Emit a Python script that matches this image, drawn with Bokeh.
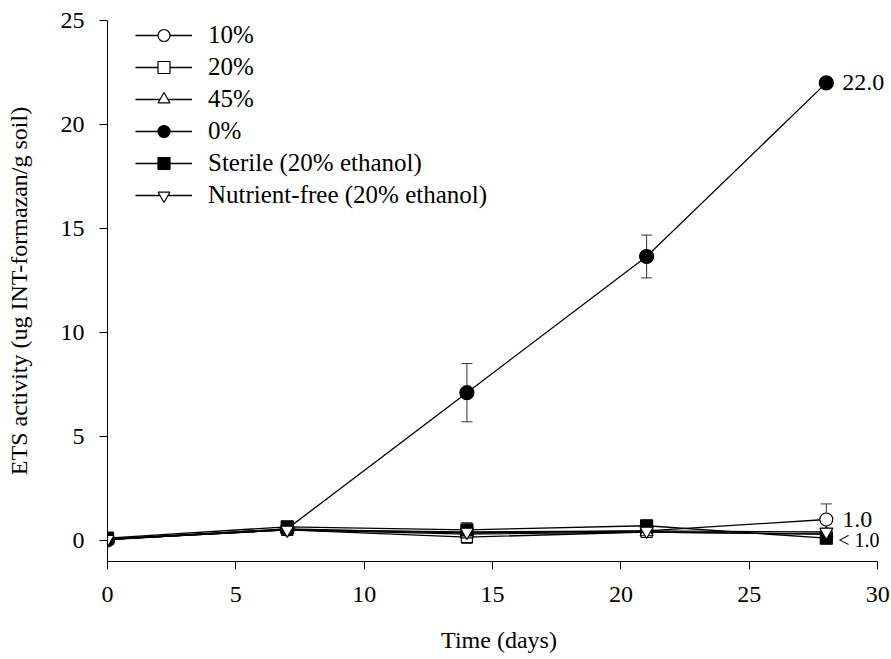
from bokeh.plotting import figure
from bokeh.models import (ColumnDataSource, Range1d, Legend, LegendItem, Whisker,
                          TeeHead, LabelSet, FixedTicker)
from bokeh.embed import file_html
from bokeh.resources import INLINE

days = [0, 7, 14, 21, 28]
pct10 = [0.05, 0.55, 0.35, 0.45, 1.0]
err10 = [0.05, 0.1, 0.5, 0.15, 0.75]
pct20 = [0.05, 0.5, 0.15, 0.4, 0.3]
pct45 = [0.05, 0.5, 0.3, 0.4, 0.3]
pct0 = [0.02, 0.55, 7.1, 13.65, 22.0]
err0 = [0.05, 0.1, 1.4, 1.03, 0.0]
sterile = [0.1, 0.65, 0.5, 0.7, 0.1]
nutrient = [0.05, 0.5, 0.4, 0.45, 0.4]

labels = ["10%", "20%", "45%", "0%", "Sterile (20% ethanol)", "Nutrient-free (20% ethanol)"]
x_ticks = [0, 5, 10, 15, 20, 25, 30]
y_ticks = [0, 5, 10, 15, 20, 25]

ann_y = [22.0, 1.0]
ann_text = ["22.0", "1.0"]
ann2_y = [0.0]
ann2_text = ["< 1.0"]

FONT = "Liberation Serif"

p = figure(width=890, height=658, output_backend="svg", toolbar_location=None,
           x_range=Range1d(0, 30.5), y_range=Range1d(-1.02, 25),
           min_border_left=107, min_border_right=0, min_border_top=20, min_border_bottom=97)
p.outline_line_color = None
p.xgrid.visible = False
p.ygrid.visible = False

for ax in (p.xaxis, p.yaxis):
    ax.major_label_text_font = FONT
    ax.major_label_text_font_size = "24px"
    ax.axis_label_text_font = FONT
    ax.axis_label_text_font_size = "24px"
    ax.axis_label_text_font_style = "normal"
    ax.minor_tick_line_color = None
    ax.major_tick_in = 0
    ax.major_tick_out = 8
    ax.axis_line_color = "black"
    ax.major_tick_line_color = "black"
    ax.major_label_text_color = "black"
    ax.axis_label_text_color = "black"

p.xaxis.bounds = (0, 30)
p.xaxis.ticker = FixedTicker(ticks=x_ticks)
p.yaxis.ticker = FixedTicker(ticks=y_ticks)
p.xaxis.axis_label = "Time (days)"
p.yaxis.axis_label = "ETS activity (ug INT-formazan/g soil)"
p.xaxis.major_label_standoff = 17
p.yaxis.major_label_standoff = 15
p.xaxis.axis_label_standoff = 22
p.yaxis.axis_label_standoff = 26

# error bars
src0 = ColumnDataSource(dict(x=days, lo=[a - b for a, b in zip(pct0, err0)], hi=[a + b for a, b in zip(pct0, err0)]))
src10 = ColumnDataSource(dict(x=days, lo=[a - b for a, b in zip(pct10, err10)], hi=[a + b for a, b in zip(pct10, err10)]))
for s in (src0, src10):
    w = Whisker(source=s, base="x", upper="hi", lower="lo", line_color="#333333", line_width=1,
                upper_head=TeeHead(size=11, line_color="#333333", line_width=1),
                lower_head=TeeHead(size=11, line_color="#333333", line_width=1))
    p.add_layout(w)

series = [
    (pct10, "circle", "white", 13),
    (pct20, "square", "white", 11),
    (pct45, "triangle", "white", 13),
    (pct0, "circle", "black", 14),
    (sterile, "square", "black", 12),
    (nutrient, "inverted_triangle", "white", 13),
]

items = []
for (vals, marker, fill, size), lab in zip(series, labels):
    ln = p.line(days, vals, line_color="black", line_width=1.3)
    sc = p.scatter(days, vals, marker=marker, size=size, fill_color=fill,
                   line_color="black", line_width=1.2)
    items.append(LegendItem(label=lab, renderers=[ln, sc]))

legend = Legend(items=items, location=(28, 351), padding=0, margin=0,
                border_line_color=None, background_fill_alpha=0,
                glyph_width=57, glyph_height=30, label_height=30, spacing=2,
                label_standoff=16, label_text_font=FONT, label_text_font_size="25px",
                label_text_color="black")
p.add_layout(legend)

asrc = ColumnDataSource(dict(x=[28] * len(ann_y), y=ann_y, t=ann_text))
p.add_layout(LabelSet(x="x", y="y", text="t", source=asrc, x_offset=16,
                      text_baseline="middle", text_font=FONT, text_font_size="24px",
                      text_color="black"))
asrc2 = ColumnDataSource(dict(x=[28] * len(ann2_y), y=ann2_y, t=ann2_text))
p.add_layout(LabelSet(x="x", y="y", text="t", source=asrc2, x_offset=12,
                      text_baseline="middle", text_font=FONT, text_font_size="20px",
                      text_color="black"))

open("out.html", "w").write(file_html(p, INLINE))
